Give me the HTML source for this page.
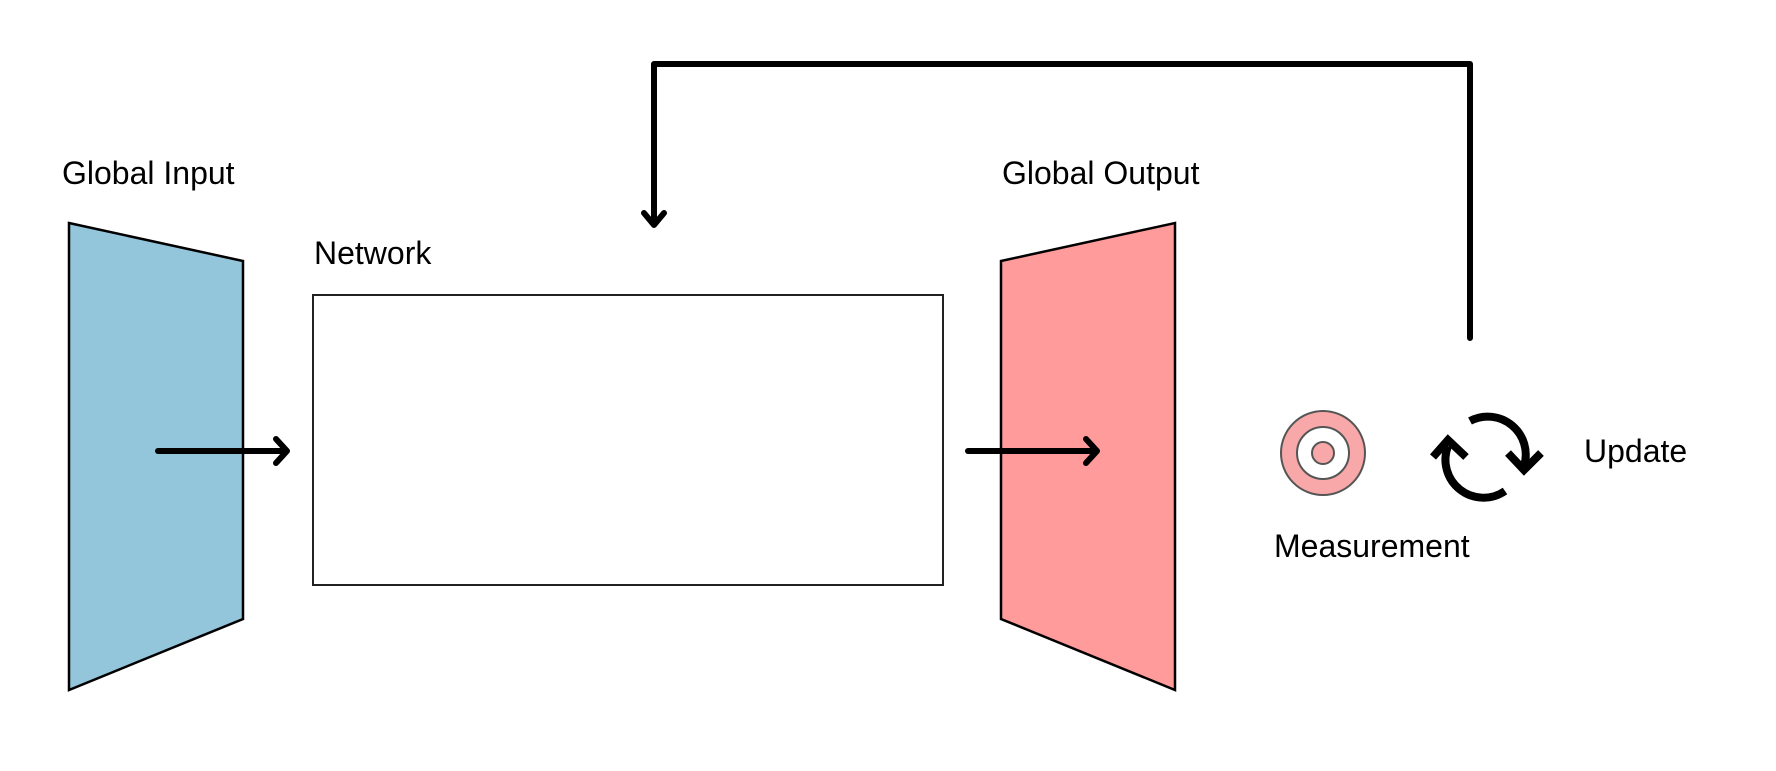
<!DOCTYPE html>
<html><head><meta charset="utf-8"><style>
html,body{margin:0;padding:0;background:#fff;}
svg{display:block;}
text{font-family:"Liberation Sans",Arial,sans-serif;font-size:32px;fill:#000;}
</style></head><body>
<svg width="1776" height="771" viewBox="0 0 1776 771" xmlns="http://www.w3.org/2000/svg">
<rect width="1776" height="771" fill="#fff"/>
<polygon points="69,223 243,261 243,619 69,690" fill="#93c5db" stroke="#000" stroke-width="2.5"/>
<polygon points="1001,261 1175,223 1175,690 1001,619" fill="#ff9b9b" stroke="#000" stroke-width="2.5"/>
<rect x="313" y="295" width="630" height="290" fill="#fff" stroke="#222" stroke-width="2"/>
<g stroke="#000" stroke-width="6" fill="none" stroke-linecap="round" stroke-linejoin="round">
<line x1="158" y1="451" x2="286" y2="451"/>
<polyline points="276,439 287,451 276,463"/>
<line x1="968" y1="451" x2="1096" y2="451"/>
<polyline points="1086,439 1097,451 1086,463"/>
<polyline points="1470,338 1470,64 654,64 654,224"/>
<polyline points="644,213 654,225 664,213"/>
</g>
<g stroke="#000" stroke-width="8" fill="none">
<path d="M1470,421 A38,38 0 0 1 1524,466"/>
<polyline points="1508,453 1524,470 1541,453"/>
<path d="M1505,491 A38,38 0 0 1 1448,446"/>
<polyline points="1433,457 1448,440 1466,457"/>
</g>
<circle cx="1323" cy="453" r="42" fill="#f8a8a8" stroke="#555" stroke-width="2"/>
<circle cx="1323" cy="453" r="26" fill="#fff" stroke="#555" stroke-width="2"/>
<circle cx="1323" cy="453" r="11" fill="#f8a8a8" stroke="#555" stroke-width="2"/>
<text x="62" y="184">Global Input</text>
<text x="314" y="264">Network</text>
<text x="1002" y="184">Global Output</text>
<text x="1274" y="557">Measurement</text>
<text x="1584" y="462">Update</text>
</svg>
</body></html>
